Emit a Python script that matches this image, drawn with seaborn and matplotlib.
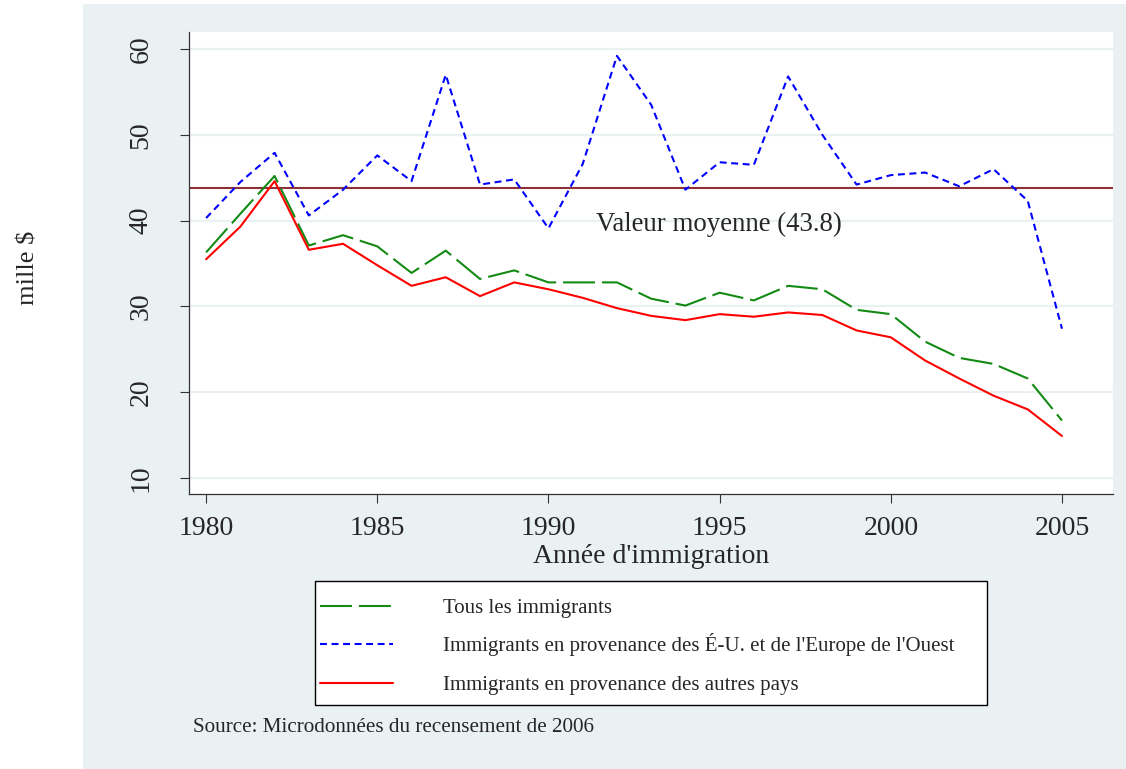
import pandas as pd
import numpy as np
import matplotlib
matplotlib.use("Agg")
import matplotlib.pyplot as plt
import seaborn as sb
from matplotlib.patches import Rectangle

# Revenu median (mille $) selon l'annee d'immigration
annees = list(range(1980, 2006))
tous = [36.3, 40.8, 45.2, 37.1, 38.3, 37.0, 33.9, 36.5, 33.2, 34.2, 32.8, 32.8, 32.8,
        30.9, 30.1, 31.6, 30.7, 32.4, 32.0, 29.6, 29.1, 25.9, 24.0, 23.3, 21.6, 16.7]
eu_europe = [40.3, 44.5, 47.9, 40.6, 43.6, 47.6, 44.6, 57.0, 44.2, 44.8, 39.1, 46.6, 59.2,
             53.5, 43.6, 46.8, 46.5, 56.8, 50.0, 44.2, 45.3, 45.6, 44.0, 46.0, 42.3, 27.4]
autres = [35.5, 39.3, 44.6, 36.6, 37.3, 34.8, 32.4, 33.4, 31.2, 32.8, 32.0, 31.0, 29.8,
          28.9, 28.4, 29.1, 28.8, 29.3, 29.0, 27.2, 26.4, 23.7, 21.6, 19.6, 18.0, 14.9]
moyenne = 43.8

noms = ["Tous les immigrants",
        "Immigrants en provenance des É-U. et de l'Europe de l'Ouest",
        "Immigrants en provenance des autres pays"]
x_ticks = [1980, 1985, 1990, 1995, 2000, 2005]
y_ticks = [10, 20, 30, 40, 50, 60]

df = pd.DataFrame({
    "annee": annees * 3,
    "valeur": tous + eu_europe + autres,
    "serie": [noms[0]] * len(annees) + [noms[1]] * len(annees) + [noms[2]] * len(annees),
})

sb.set_style("white")
plt.rcParams["font.family"] = ["Liberation Serif", "DejaVu Serif"]
plt.rcParams["lines.scale_dashes"] = False

W, H = 1126, 769
fond = "#EAF1F3"
fig = plt.figure(figsize=(W / 100, H / 100), dpi=100)
fig.patch.set_facecolor("white")
fig.add_artist(Rectangle((83 / W, 0), 1 - 83 / W, (769 - 4) / H, transform=fig.transFigure,
                         facecolor=fond, edgecolor="none", zorder=-5))

ax = fig.add_axes([189 / W, 1 - 494 / H, (1113 - 189) / W, (494 - 32) / H])
ax.set_facecolor("white")

couleurs = {noms[0]: "#138A13", noms[1]: "#0000FF", noms[2]: "#FF0000"}
tirets = {noms[0]: (23, 5), noms[1]: (5, 3.3), noms[2]: ""}
sb.lineplot(data=df, x="annee", y="valeur", hue="serie", style="serie",
            hue_order=noms, style_order=noms, palette=couleurs, dashes=tirets,
            linewidth=1.5, legend=False, ax=ax)
lignes = ax.lines[:3]

ax.axhline(moyenne, color="#8E3035", linewidth=1.5, zorder=1)
ax.text(1991.39, 39.6, "Valeur moyenne (43.8)", fontsize=19.4, ha="left", va="center")

ax.set_xlim(1979.5, 2006.49)
ax.set_ylim(8.14, 61.98)
ax.set_xticks(x_ticks)
ax.set_yticks(y_ticks)
ax.yaxis.grid(True, color=fond, linewidth=1.6, zorder=0)
ax.xaxis.grid(False)
ax.set_axisbelow(True)
for s in ["top", "right"]:
    ax.spines[s].set_visible(False)
for s in ["left", "bottom"]:
    ax.spines[s].set_color("#333333")
    ax.spines[s].set_linewidth(0.9)
ax.tick_params(axis="both", direction="out", length=6.5, width=0.8, color="#333333",
               labelsize=20, left=True, bottom=True)
ax.tick_params(axis="x", pad=9)
ax.tick_params(axis="y", pad=19, labelrotation=90)
for lab in ax.get_yticklabels():
    lab.set_va("center")

ax.set_xlabel("Année d'immigration", fontsize=20)
ax.xaxis.set_label_coords(0.5, -0.108)
ax.set_ylabel("mille $", fontsize=19)
ax.yaxis.set_label_coords(-0.162, 0.49)

# legende dans un cadre blanc, une ligne par entree
fig.add_artist(Rectangle((315 / W, 1 - 705 / H), (987 - 315) / W, (705 - 581) / H,
                         transform=fig.transFigure, facecolor="white",
                         edgecolor="black", linewidth=1.0, zorder=1))
for ligne, nom, yc in zip(lignes, noms, [608, 645, 685]):
    leg = fig.legend([ligne], [nom], loc="center left", bbox_to_anchor=(320 / W, 1 - yc / H),
                     frameon=False, borderpad=0, borderaxespad=0, fontsize=15,
                     handlelength=3.5, handletextpad=2.4)
    leg.set_zorder(2)

fig.text(193 / W, 1 - 728 / H, "Source: Microdonnées du recensement de 2006",
         fontsize=15.2, ha="left", va="center")

plt.savefig("out.png", dpi=100)
